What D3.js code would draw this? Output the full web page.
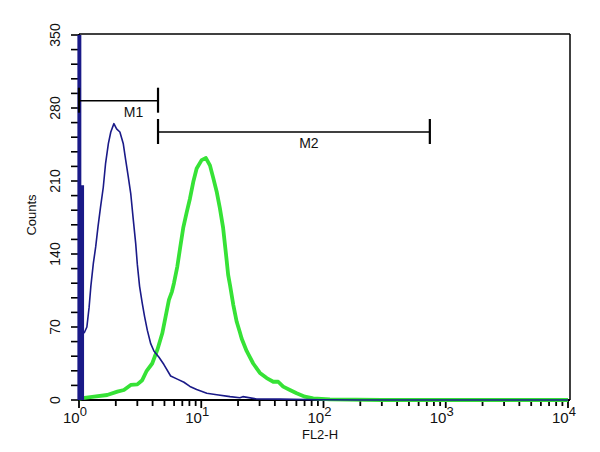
<!DOCTYPE html>
<html><head><meta charset="utf-8">
<script src="https://cdn.jsdelivr.net/npm/d3@7"></script>
<style>
html,body{margin:0;padding:0;background:#fff;}
svg{display:block;font-family:"Liberation Sans",Arial,sans-serif;}
</style></head>
<body><svg id="c" width="600" height="452"></svg>
<script>
// ---- data ----
const yTickValues = [0, 70, 140, 210, 280, 350];
const xDecades = [1, 10, 100, 1000, 10000];
const xExponents = ["0", "1", "2", "3", "4"];

// blue (control) histogram: off-scale first channels, then the curve
const blueHeadX = [0.97, 1.045, 1.10];
const blueHeadCount = [350, 206, 64];
const blueX = [1.10, 1.16, 1.21, 1.25, 1.31, 1.37, 1.43, 1.50, 1.58, 1.65, 1.74, 1.82, 1.93, 2.03, 2.16, 2.30, 2.41, 2.53, 2.65, 2.78, 2.91, 3.00, 3.13, 3.29, 3.44, 3.62, 3.86, 4.10, 4.51, 4.95, 5.62, 6.37, 7.22, 8.08, 9.17, 11.1, 13.4, 17.2, 20.7, 21.9, 28.4, 44, 93, 200, 1000, 10000];
const blueCount = [64, 70, 89, 109, 131, 147, 166, 185, 204, 227, 246, 257, 265, 260, 257, 246, 230, 214, 198, 173, 150, 130, 109, 93, 80, 67, 54, 47, 41, 34, 23, 20, 17, 13, 10, 6.4, 5, 3.2, 2.2, 3.2, 1, 0.8, 0.3, 0, 0, 0];

// green (stained) histogram
const greenX = [1.0, 1.03, 1.33, 1.70, 2.06, 2.33, 2.65, 3.00, 3.29, 3.58, 3.97, 4.37, 4.80, 5.11, 5.44, 5.76, 5.98, 6.37, 6.70, 7.12, 7.60, 8.08, 8.60, 9.17, 10.07, 10.92, 11.78, 12.53, 13.36, 14.2, 15.1, 16.1, 16.6, 17.2, 18.3, 19.5, 20.7, 21.4, 23.5, 26.6, 30.2, 34.3, 38.8, 42.6, 46.8, 53.1, 60.3, 70.5, 82.4, 112.8, 300, 1000, 10000];
const greenCount = [1, 1.6, 3.2, 4.8, 8, 9.6, 14.4, 15, 19, 28, 35, 48, 64, 80, 96, 104, 112, 128, 145, 165, 180, 193, 209, 222, 230, 232, 225, 213, 200, 184, 165, 135, 120, 110, 91, 75, 65, 59, 47, 35, 26, 21, 17.5, 17.5, 12.8, 9.6, 6.4, 3.2, 1.6, 0.6, 0, 0, 0];

// gate markers
const markerNames = ["M1", "M2"];
const markerStart = [1, 4.43];
const markerEnd = [4.43, 741];
const markerLevel = [287, 257];

// ---- drawing ----
const svg = d3.select("#c");
const L = 79, R = 568, T = 35, B = 400;
const x = d3.scaleLog().domain([1, 10000]).range([L, R]);
const y = d3.scaleLinear().domain([0, 350]).range([B, T]);
const blue = "#1a1a88", green = "#36e236";

// frame: top and right
svg.append("line").attr("x1", L).attr("x2", 570).attr("y1", 34).attr("y2", 34)
  .attr("stroke", "#000").attr("stroke-width", 1.5);
svg.append("line").attr("x1", 570).attr("x2", 570).attr("y1", 34).attr("y2", B)
  .attr("stroke", "#000").attr("stroke-width", 1.5);

// y axis
const ya = svg.append("g");
ya.append("line").attr("x1", L).attr("x2", L).attr("y1", 34).attr("y2", B + 1)
  .attr("stroke", "#000").attr("stroke-width", 2);
ya.selectAll("line.mt").data(d3.range(0, 351, 14)).join("line")
  .attr("class", "mt")
  .attr("x1", L - 8).attr("x2", L).attr("y1", d => y(d)).attr("y2", d => y(d))
  .attr("stroke", "#000").attr("stroke-width", 1.6);
ya.selectAll("text").data(yTickValues).join("text")
  .attr("transform", d => `translate(60,${y(d)}) rotate(-90)`)
  .attr("text-anchor", "middle").attr("font-size", 14).attr("fill", "#111")
  .text(d => d);
svg.append("text").attr("transform", "translate(36,215) rotate(-90)")
  .attr("text-anchor", "middle").attr("font-size", 13).attr("fill", "#111").text("Counts");

// x axis
const xa = svg.append("g");
xa.append("line").attr("x1", L - 1).attr("x2", 570).attr("y1", B).attr("y2", B)
  .attr("stroke", "#000").attr("stroke-width", 2);
xa.selectAll("line.mt").data(x.ticks()).join("line")
  .attr("class", "mt")
  .attr("x1", d => x(d)).attr("x2", d => x(d))
  .attr("y1", B).attr("y2", d => xDecades.includes(d) ? B + 8 : B + 6)
  .attr("stroke", "#000").attr("stroke-width", 1.8);
const xl = xa.selectAll("text").data(xDecades).join("text")
  .attr("x", (d) => x(d) - 4).attr("y", 423)
  .attr("text-anchor", "middle").attr("font-size", 15).attr("fill", "#111");
xl.append("tspan").text("10");
xl.append("tspan").attr("dy", -7).attr("font-size", 13).text((d, i) => xExponents[i]);
svg.append("text").attr("x", 320).attr("y", 439).attr("text-anchor", "middle")
  .attr("font-size", 13).attr("fill", "#111").text("FL2-H");

// histograms
const line = d3.line().x(d => x(d[0])).y(d => y(d[1]));
svg.append("path").datum(greenX.map((v, i) => [v, greenCount[i]]))
  .attr("d", line).attr("fill", "none").attr("stroke", green)
  .attr("stroke-width", 3.8).attr("stroke-linejoin", "round");
svg.append("path").datum(blueHeadX.map((v, i) => [v, blueHeadCount[i]]))
  .attr("d", d3.area().curve(d3.curveStepAfter).x(d => x(d[0])).y0(y(0)).y1(d => y(d[1])))
  .attr("fill", blue);
svg.append("path").datum(blueX.map((v, i) => [v, blueCount[i]]))
  .attr("d", line).attr("fill", "none").attr("stroke", blue)
  .attr("stroke-width", 1.6).attr("stroke-linejoin", "round");

// markers
const mk = svg.append("g").selectAll("g").data(markerNames).join("g");
mk.append("line")
  .attr("x1", (d, i) => x(markerStart[i])).attr("x2", (d, i) => x(markerEnd[i]))
  .attr("y1", (d, i) => y(markerLevel[i])).attr("y2", (d, i) => y(markerLevel[i]))
  .attr("stroke", "#000").attr("stroke-width", 1.6);
mk.append("line")
  .attr("x1", (d, i) => x(markerStart[i])).attr("x2", (d, i) => x(markerStart[i]))
  .attr("y1", (d, i) => y(markerLevel[i]) - 13).attr("y2", (d, i) => y(markerLevel[i]) + 12)
  .attr("stroke", "#000").attr("stroke-width", 2.2);
mk.append("line")
  .attr("x1", (d, i) => x(markerEnd[i])).attr("x2", (d, i) => x(markerEnd[i]))
  .attr("y1", (d, i) => y(markerLevel[i]) - 13).attr("y2", (d, i) => y(markerLevel[i]) + 12)
  .attr("stroke", "#000").attr("stroke-width", 2.2);
mk.append("text")
  .attr("x", (d, i) => (x(markerStart[i]) + x(markerEnd[i])) / 2 + 15)
  .attr("y", (d, i) => y(markerLevel[i]) + 16)
  .attr("text-anchor", "middle").attr("font-size", 14).attr("fill", "#111")
  .text(d => d);
</script></body></html>
